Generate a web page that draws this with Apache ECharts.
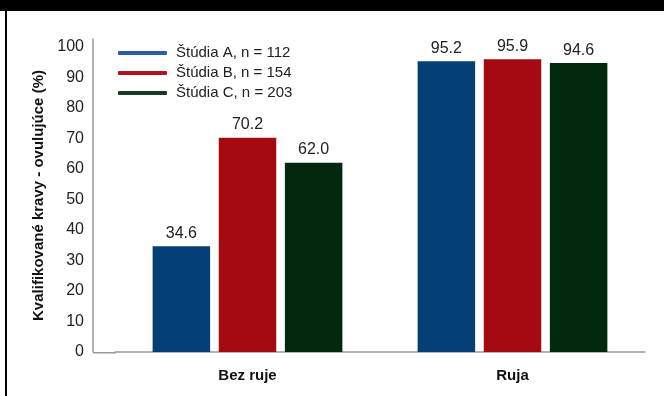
<!DOCTYPE html>
<html><head><meta charset="utf-8">
<script src="https://cdn.jsdelivr.net/npm/echarts@6/dist/echarts.min.js"></script>
<style>html,body{margin:0;padding:0;background:#fff}#c{width:664px;height:396px}</style>
</head><body><div id="c"></div>
<script>
const categories = ['Bez ruje', 'Ruja'];
const seriesNames = ['Štúdia A, n = 112', 'Štúdia B, n = 154', 'Štúdia C, n = 203'];
const studyA = [34.6, 95.2];
const studyB = [70.2, 95.9];
const studyC = [62.0, 94.6];
const yAxisName = 'Kvalifikované kravy - ovulujúce (%)';

const colors = ['#043f75', '#a50912', '#02280d'];
const legendColors = ['#2c5ea8', '#b0121b', '#153d22'];
const font = '"Liberation Sans", Arial, sans-serif';
const values = [studyA, studyB, studyC];

const chart = echarts.init(document.getElementById('c'), null, {renderer: 'canvas'});
chart.setOption({
  animation: false,
  textStyle: {fontFamily: font},
  grid: {left: 115, right: 19, top: 39, bottom: 44},
  legend: {
    orient: 'vertical', left: 113, top: 40,
    itemWidth: 49, itemHeight: 4, itemGap: 4,
    icon: 'roundRect',
    textStyle: {fontSize: 15, color: '#222', fontFamily: font, lineHeight: 16, padding: [0, 0, 0, 4]},
    data: seriesNames.map((n, i) => ({name: n, itemStyle: {color: legendColors[i]}}))
  },
  xAxis: {
    type: 'category', data: categories,
    axisLine: {lineStyle: {color: '#999', width: 1.5}},
    axisTick: {show: false},
    axisLabel: {fontSize: 15, fontWeight: 'bold', color: '#111', margin: 16, fontFamily: font}
  },
  yAxis: {
    type: 'value', min: 0, max: 102.5, interval: 10, offset: 22,
    name: yAxisName, nameLocation: 'middle', nameGap: 44,
    nameTextStyle: {fontSize: 15, fontWeight: 'bold', color: '#111', fontFamily: font},
    axisLine: {show: true, lineStyle: {color: '#999', width: 1.5}},
    axisTick: {show: false},
    splitLine: {show: false},
    axisLabel: {fontSize: 16, color: '#222', margin: 9, showMaxLabel: false, fontFamily: font}
  },
  graphic: [
    {type: 'rect', left: 0, top: 0, shape: {width: 664, height: 11}, style: {fill: '#000'}, silent: true},
    {type: 'rect', left: 5, top: 11, shape: {width: 2, height: 385}, style: {fill: '#000'}, silent: true},
    {type: 'rect', left: 93, top: 352, shape: {width: 23, height: 1.5}, style: {fill: '#999'}, silent: true}
  ],
  series: seriesNames.map((n, i) => ({
    name: n, type: 'bar', data: values[i],
    barWidth: 57.5, barGap: '15%',
    itemStyle: {color: colors[i]},
    label: {show: true, position: 'top', distance: 5, fontSize: 16, color: '#222', fontFamily: font,
      formatter: p => p.value.toFixed(1)}
  }))
});
</script></body></html>
